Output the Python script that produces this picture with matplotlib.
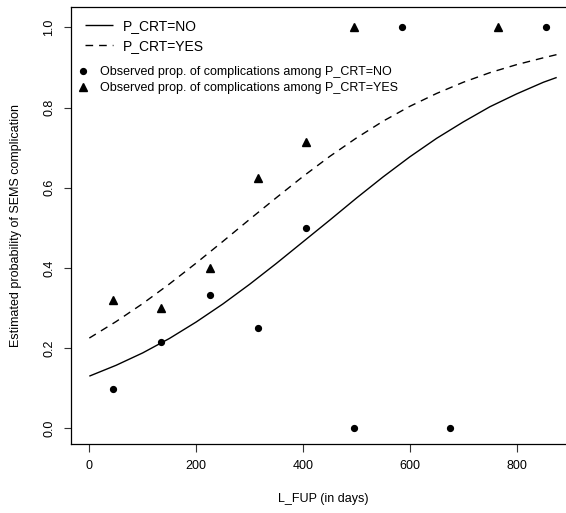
import matplotlib
matplotlib.use("Agg")
import matplotlib.pyplot as plt
from matplotlib.lines import Line2D

plt.rcParams['font.family'] = ['Liberation Sans', 'DejaVu Sans']

# Fitted curves
curve_x = [0, 50, 100, 150, 200, 250, 300, 350, 400, 450, 500, 550, 600,
           650, 700, 750, 800, 850, 875]
curve_no = [0.130, 0.157, 0.188, 0.224, 0.265, 0.310, 0.359, 0.411, 0.465,
            0.519, 0.574, 0.627, 0.677, 0.723, 0.764, 0.802, 0.834, 0.863, 0.875]
curve_yes = [0.225, 0.266, 0.311, 0.360, 0.412, 0.466, 0.521, 0.575, 0.628,
             0.678, 0.724, 0.766, 0.803, 0.835, 0.863, 0.887, 0.907, 0.924, 0.932]

# Observed proportions
obs_no_x = [45, 135, 225, 315, 405, 495, 585, 675, 855]
obs_no_p = [0.098, 0.214, 0.333, 0.25, 0.5, 0.0, 1.0, 0.0, 1.0]
obs_yes_x = [45, 135, 225, 315, 405, 495, 765]
obs_yes_p = [0.32, 0.30, 0.40, 0.625, 0.714, 1.0, 1.0]

x_ticks = [0, 200, 400, 600, 800]
y_ticks = [0.0, 0.2, 0.4, 0.6, 0.8, 1.0]
y_ticklabels = ['0.0', '0.2', '0.4', '0.6', '0.8', '1.0']

W, H = 566, 513
fig = plt.figure(figsize=(W / 100, H / 100), dpi=100)
left_px, right_px, top_px, bottom_px = 71, 575.4, 7.3, 443.7
ax = fig.add_axes([left_px / W, 1 - bottom_px / H,
                   (right_px - left_px) / W, (bottom_px - top_px) / H])
ax.set_xlim(-34.3, 910)
ax.set_ylim(-0.0385, 1.050)

lw = 1.0
l1, = ax.plot(curve_x, curve_no, color='black', lw=lw, solid_capstyle='butt')
l2, = ax.plot(curve_x, curve_yes, color='black', lw=lw, dashes=[5.5, 4.3])
ax.plot(obs_no_x, obs_no_p, 'o', color='black', markersize=4.2, clip_on=False)
ax.plot(obs_yes_x, obs_yes_p, '^', color='black', markersize=5.2, clip_on=False)

for s in ax.spines.values():
    s.set_linewidth(0.9)

ax.set_xticks(x_ticks)
ax.set_xticklabels([str(v) for v in x_ticks])
ax.set_yticks(y_ticks)
ax.set_yticklabels(y_ticklabels, rotation=90, va='center')
ax.tick_params(axis='both', length=5.4, width=0.8, labelsize=9, color='#333333')
ax.tick_params(axis='x', pad=6.5)
ax.tick_params(axis='y', pad=6)

ax.set_xlabel('L_FUP (in days)', fontsize=9)
ax.set_ylabel('Estimated probability of SEMS complication', fontsize=9)
ax.xaxis.set_label_coords(0.5, (bottom_px - 493) / (bottom_px - top_px))
ax.yaxis.set_label_coords((22 - left_px) / (right_px - left_px), 0.5)

# Legend 1 (lines)
leg1 = ax.legend([l1, l2], ['P_CRT=NO', 'P_CRT=YES'], loc='upper left',
                 bbox_to_anchor=(85 / W, 1 - 19 / H), bbox_transform=fig.transFigure,
                 frameon=False, fontsize=10, handlelength=2.0, handletextpad=0.72,
                 labelspacing=0.4, borderpad=0, borderaxespad=0)
ax.add_artist(leg1)

h1 = Line2D([], [], ls='none', marker='o', color='black', markersize=4.2)
h2 = Line2D([], [], ls='none', marker='^', color='black', markersize=5.2)
leg2 = ax.legend([h1, h2], ['Observed prop. of complications among P_CRT=NO',
                            'Observed prop. of complications among P_CRT=YES'],
                 loc='upper left', bbox_to_anchor=(77.7 / W, 1 - 66 / H),
                 bbox_transform=fig.transFigure, frameon=False, fontsize=9,
                 handlelength=0.8, handletextpad=1.0, labelspacing=0.35,
                 borderpad=0, borderaxespad=0)

fig.savefig('out.png', dpi=100)
